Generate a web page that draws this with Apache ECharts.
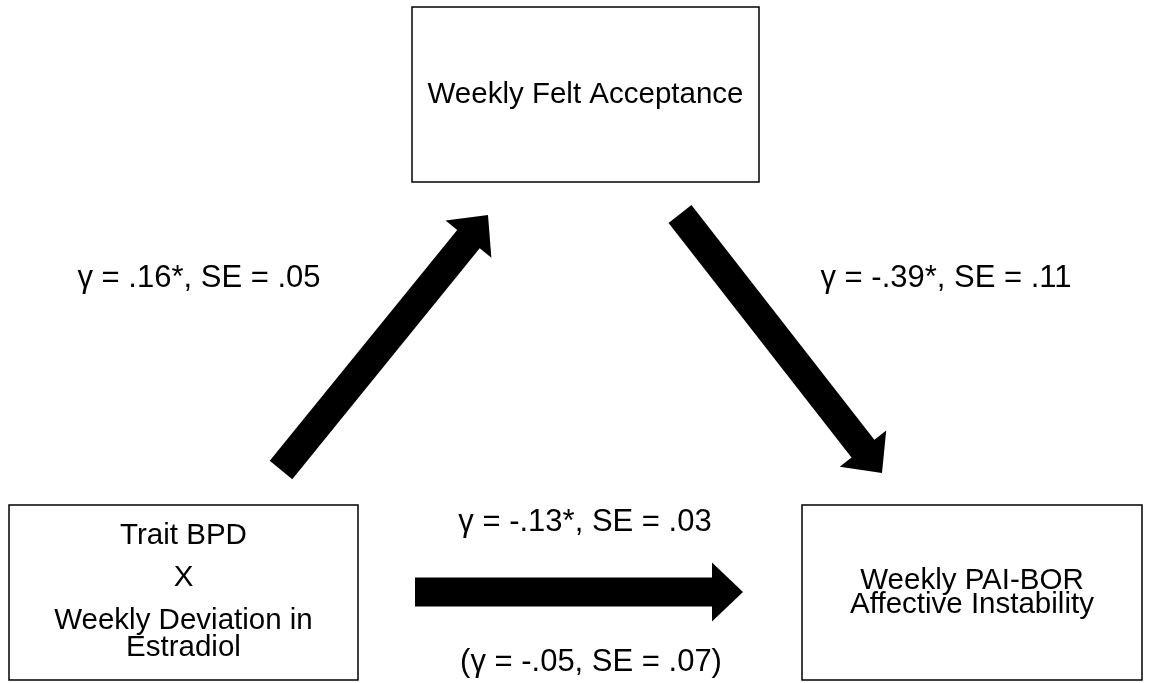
<!DOCTYPE html>
<html>
<head>
	<title>Mediation model</title>
	<meta charset="utf-8">
	<script src="https://cdn.jsdelivr.net/npm/echarts@6/dist/echarts.min.js"></script>
	<style>body{margin:0;background:#fff}</style>
</head>
<body>
<div id="chart" style="width:1151px;height:683px"></div>
<script>
	// boxes of the model, corners in diagram units
	const boxNames = ['Weekly Felt Acceptance', 'Trait BPD|X|Weekly Deviation in|Estradiol', 'Weekly PAI-BOR|Affective Instability'];
	const boxX = [[412, 759], [9, 358], [802, 1142]];
	const boxY = [[7, 182], [505, 680], [505, 680]];

	// paths: a, b, c (total) and c' (direct, in brackets)
	const pathNames = ['a', 'b', 'c', "c'"];
	const gammas = ['.16', '-.39', '-.13', '-.05'];
	const ses = ['.05', '.11', '.03', '.07'];
	const significant = [true, true, true, false];
	const bracketed = [false, false, false, true];
	const labelX = [199, 946, 585, 591];
	const labelY = [278, 278, 522, 662];

	// arrows: tail and tip
	const arrowFrom = [[281, 470], [680, 214], [415, 592]];
	const arrowTo = [[488, 215], [882, 473], [743, 592]];

	const font = 'Liberation Sans, Arial, sans-serif';
	// line heights inside each box
	const boxLineHeights = [[30], [25, 59, 27, 27], [24, 24]];

	function renderBox(params, api){
		const i = api.value(4);
		const p0 = api.coord([api.value(0), api.value(1)]);
		const p1 = api.coord([api.value(2), api.value(3)]);
		const x = Math.min(p0[0], p1[0]), y = Math.min(p0[1], p1[1]);
		const w = Math.abs(p1[0] - p0[0]), h = Math.abs(p1[1] - p0[1]);
		const lines = boxNames[i].split('|');
		const rich = {};
		const txt = lines.map((l, k) => {
			rich['l' + k] = {lineHeight: boxLineHeights[i][k], fontSize: 29.5, fontFamily: font, fill: '#000'};
			return '{l' + k + '|' + l + '}';
		}).join('\n');
		return {
			type: 'group',
			children: [{
				type: 'rect',
				shape: {x: x, y: y, width: w, height: h},
				style: {fill: '#fff', stroke: '#000', lineWidth: 1.5}
			}, {
				type: 'text',
				x: x + w / 2,
				y: y + h / 2,
				style: {text: txt, rich: rich, align: 'center', verticalAlign: 'middle', fontSize: 29.5, fontFamily: font}
			}]
		};
	}

	function renderArrow(params, api){
		const t = api.coord([api.value(0), api.value(1)]);
		const p = api.coord([api.value(2), api.value(3)]);
		const dx = p[0] - t[0], dy = p[1] - t[1];
		const len = Math.sqrt(dx * dx + dy * dy);
		const ux = dx / len, uy = dy / len;
		const nx = -uy, ny = ux;
		const sw = 14.5, hw = 29.5, hl = 31;
		const bx = p[0] - ux * hl, by = p[1] - uy * hl;
		const pts = [
			[t[0] + nx * sw, t[1] + ny * sw],
			[bx + nx * sw, by + ny * sw],
			[bx + nx * hw, by + ny * hw],
			[p[0], p[1]],
			[bx - nx * hw, by - ny * hw],
			[bx - nx * sw, by - ny * sw],
			[t[0] - nx * sw, t[1] - ny * sw]
		];
		return {type: 'polygon', shape: {points: pts}, style: {fill: '#000'}};
	}

	function renderLabel(params, api){
		const i = params.dataIndex;
		const c = api.coord([api.value(0), api.value(1)]);
		let s = 'γ = ' + gammas[i] + (significant[i] ? '*' : '') + ', SE = ' + ses[i];
		if (bracketed[i]) s = '(' + s + ')';
		return {
			type: 'text',
			x: c[0],
			y: c[1],
			style: {text: s, align: 'center', verticalAlign: 'middle', fontSize: 31, fontFamily: font, fill: '#000'}
		};
	}

	function initData(){
		let option = {
			animation: false,
			grid: {left: 0, right: 0, top: 0, bottom: 0},
			xAxis: {type: 'value', min: 0, max: 1151, show: false},
			yAxis: {type: 'value', min: 0, max: 683, inverse: true, show: false},
			series: [{
				type: 'custom',
				silent: true,
				renderItem: renderArrow,
				data: arrowFrom.map((f, i) => [f[0], f[1], arrowTo[i][0], arrowTo[i][1]])
			}, {
				type: 'custom',
				silent: true,
				renderItem: renderBox,
				data: boxNames.map((n, i) => [boxX[i][0], boxY[i][0], boxX[i][1], boxY[i][1], i])
			}, {
				type: 'custom',
				silent: true,
				renderItem: renderLabel,
				data: pathNames.map((n, i) => [labelX[i], labelY[i]])
			}]
		};
		let myChart = echarts.init(document.getElementById('chart'));
		myChart.setOption(option);
	}
	initData();
</script>
</body>
</html>
